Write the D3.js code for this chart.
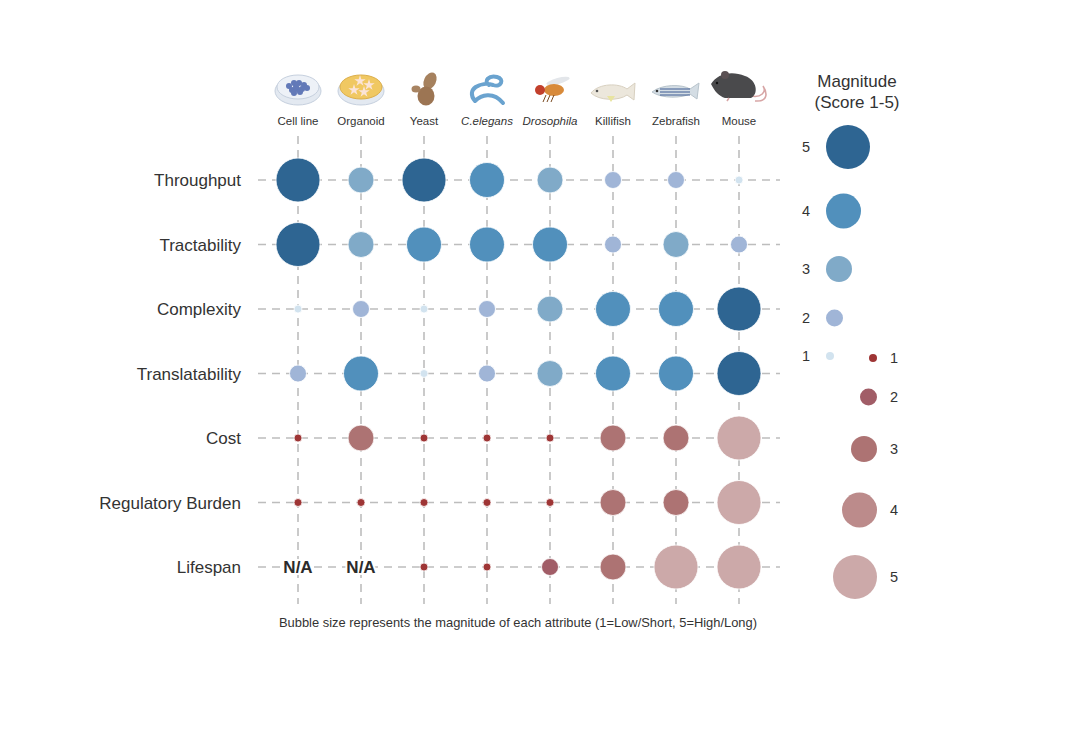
<!DOCTYPE html>
<html>
<head>
<meta charset="utf-8">
<script src="https://cdn.jsdelivr.net/npm/d3@7"></script>
<style>
  body { margin: 0; background: #fff; }
  svg { font-family: "Liberation Sans", Arial, sans-serif; }
</style>
</head>
<body>
<svg id="chart"></svg>
<script>
// species (columns) and attributes (rows)
const species = ["Cell line", "Organoid", "Yeast", "C.elegans", "Drosophila", "Killifish", "Zebrafish", "Mouse"];
const italicSpecies = ["C.elegans", "Drosophila"];
const attributes = ["Throughput", "Tractability", "Complexity", "Translatability", "Cost", "Regulatory Burden", "Lifespan"];
const redAttributes = ["Cost", "Regulatory Burden", "Lifespan"];

// scores per attribute, in species order (null = N/A)
const throughput      = [5, 3, 5, 4, 3, 2, 2, 1];
const tractability    = [5, 3, 4, 4, 4, 2, 3, 2];
const complexity      = [1, 2, 1, 2, 3, 4, 4, 5];
const translatability = [2, 4, 1, 2, 3, 4, 4, 5];
const cost            = [1, 3, 1, 1, 1, 3, 3, 5];
const regulatory      = [1, 1, 1, 1, 1, 3, 3, 5];
const lifespan        = [null, null, 1, 1, 2, 3, 5, 5];

const scores = [throughput, tractability, complexity, translatability, cost, regulatory, lifespan];
const legendLevels = [1, 2, 3, 4, 5];

const blueColors = ["#d2e3ef", "#a0b5d7", "#80aac8", "#5190bc", "#2e6592"];
const redColors  = ["#9e3535", "#a15d67", "#ad7373", "#bc8b8b", "#cca9a9"];

const width = 1080, height = 740;
const svg = d3.select("#chart").attr("width", width).attr("height", height);

const x = d3.scalePoint().domain(species).range([298, 739]);
const y = d3.scalePoint().domain(attributes).range([180, 567]);
const r = d3.scaleLinear().domain([1, 5]).range([4, 22]);
const blue = d3.scaleOrdinal().domain(legendLevels).range(blueColors);
const red = d3.scaleOrdinal().domain(legendLevels).range(redColors);

const cells = [];
attributes.forEach((a, i) => {
  species.forEach((s, j) => {
    cells.push({ attr: a, species: s, value: scores[i][j], red: redAttributes.includes(a) });
  });
});

// dashed grid
const grid = svg.append("g")
  .attr("stroke", "#bdbdbd")
  .attr("stroke-width", 1.6)
  .attr("stroke-dasharray", "8,6");

grid.selectAll("line.v")
  .data(species)
  .enter().append("line")
    .attr("class", "v")
    .attr("x1", d => x(d)).attr("x2", d => x(d))
    .attr("y1", 136).attr("y2", 604);

grid.selectAll("line.h")
  .data(attributes)
  .enter().append("line")
    .attr("class", "h")
    .attr("x1", 258).attr("x2", 780)
    .attr("y1", d => y(d)).attr("y2", d => y(d));

// bubbles
svg.append("g")
  .selectAll("circle")
  .data(cells.filter(d => d.value != null))
  .enter().append("circle")
    .attr("cx", d => x(d.species))
    .attr("cy", d => y(d.attr))
    .attr("r", d => r(d.value))
    .attr("fill", d => d.red ? red(d.value) : blue(d.value))
    .attr("stroke", "#fff")
    .attr("stroke-width", 0.8);

// N/A markers
svg.append("g")
  .selectAll("text")
  .data(cells.filter(d => d.value == null))
  .enter().append("text")
    .attr("x", d => x(d.species))
    .attr("y", d => y(d.attr) + 6)
    .attr("text-anchor", "middle")
    .attr("font-size", 17)
    .attr("font-weight", "bold")
    .attr("fill", "#2b2b2b")
    .attr("paint-order", "stroke")
    .attr("stroke", "#fff")
    .attr("stroke-width", 4)
    .text("N/A");

// row labels
svg.append("g")
  .selectAll("text")
  .data(attributes)
  .enter().append("text")
    .attr("x", 241)
    .attr("y", d => y(d) + 6)
    .attr("text-anchor", "end")
    .attr("font-size", 17)
    .attr("fill", "#333")
    .text(d => d);

// column labels
svg.append("g")
  .selectAll("text")
  .data(species)
  .enter().append("text")
    .attr("x", d => x(d))
    .attr("y", 125)
    .attr("text-anchor", "middle")
    .attr("font-size", 11.5)
    .attr("font-style", d => italicSpecies.includes(d) ? "italic" : "normal")
    .attr("fill", "#333")
    .text(d => d);

// little pictograms above each column
const icons = svg.append("g");
function dish(g, fill, rim) {
  g.append("ellipse").attr("cx", 0).attr("cy", 3).attr("rx", 23).attr("ry", 14).attr("fill", "#e3e9f1").attr("stroke", "#c6d0de");
  g.append("ellipse").attr("cx", 0).attr("cy", -1).attr("rx", 21).attr("ry", 12).attr("fill", fill).attr("stroke", rim);
}
const drawIcon = {
  "Cell line": g => {
    dish(g, "#edf1f7", "#c6d0de");
    [[-9,-2],[-4,-5],[1,-5],[6,-3],[-6,2],[-1,1],[4,1],[9,0],[-2,-1],[2,4],[-4,5]]
      .forEach(p => g.append("circle").attr("cx", p[0]).attr("cy", p[1]).attr("r", 3).attr("fill", "#6279b8"));
  },
  "Organoid": g => {
    dish(g, "#f0c862", "#dcae4a");
    [[-7,2],[3,4],[8,-3],[-1,-7]].forEach(p => {
      g.append("path").attr("d", d3.symbol(d3.symbolStar, 40)()).attr("transform", `translate(${p[0]},${p[1]})`).attr("fill", "#fbe4d8");
    });
  },
  "Yeast": g => {
    g.append("ellipse").attr("cx", 6).attr("cy", -8).attr("rx", 6).attr("ry", 9).attr("transform", "rotate(25,6,-8)").attr("fill", "#a6815e");
    g.append("ellipse").attr("cx", 2).attr("cy", 7).attr("rx", 8.5).attr("ry", 9.5).attr("fill", "#9c7553");
    g.append("ellipse").attr("cx", -8).attr("cy", 0).attr("rx", 4.5).attr("ry", 3.5).attr("fill", "#a88462");
  },
  "C.elegans": g => {
    g.append("path").attr("d", "M-12,12 C-22,0 -6,-8 6,-4 C14,-1 18,-10 10,-12 C2,-14 -4,-8 2,-4 M-12,12 C-6,6 6,2 16,14")
      .attr("fill", "none").attr("stroke", "#6aa3cf").attr("stroke-width", 4).attr("stroke-linecap", "round");
  },
  "Drosophila": g => {
    g.append("ellipse").attr("cx", 8).attr("cy", -9).attr("rx", 12).attr("ry", 3).attr("transform", "rotate(-15,8,-9)").attr("fill", "#e3e6ea");
    g.append("ellipse").attr("cx", 4).attr("cy", 0).attr("rx", 10).attr("ry", 6).attr("fill", "#d88a3a");
    g.append("circle").attr("cx", -10).attr("cy", 0).attr("r", 5).attr("fill", "#c2402c");
    [-4, 0, 4].forEach(dx => g.append("line").attr("x1", dx).attr("y1", 5).attr("x2", dx - 3).attr("y2", 12).attr("stroke", "#7a4a20").attr("stroke-width", 1));
  },
  "Killifish": g => {
    g.append("path").attr("d", "M-22,2 C-14,-8 6,-8 14,-2 L22,-8 L21,9 L14,4 C6,10 -14,10 -22,2 Z").attr("fill", "#ece7dc").attr("stroke", "#d8d0c0");
    g.append("circle").attr("cx", -16).attr("cy", 0).attr("r", 1.3).attr("fill", "#555");
    g.append("path").attr("d", "M-6,5 L-2,11 L2,5 Z").attr("fill", "#e8e4a0");
  },
  "Zebrafish": g => {
    g.append("path").attr("d", "M-24,1 C-14,-7 6,-7 14,-2 L23,-8 L21,8 L14,3 C6,7 -14,8 -24,1 Z").attr("fill", "#d4dde4").attr("stroke", "#b8c4cc");
    [-2, 1, 4].forEach(dy => g.append("line").attr("x1", -16).attr("y1", dy).attr("x2", 14).attr("y2", dy).attr("stroke", "#3d5b92").attr("stroke-width", 1));
    g.append("circle").attr("cx", -19).attr("cy", 0).attr("r", 1.3).attr("fill", "#333");
  },
  "Mouse": g => {
    g.append("path").attr("d", "M12,8 C22,10 28,4 24,-2 C28,4 30,14 16,13").attr("fill", "none").attr("stroke", "#d7a5a5").attr("stroke-width", 1.6);
    g.append("path").attr("d", "M-28,-4 C-22,-14 -8,-18 6,-12 C18,-8 20,6 12,10 L-14,10 C-20,8 -24,4 -28,-4 Z").attr("fill", "#4a4a4c");
    g.append("circle").attr("cx", -14).attr("cy", -13).attr("r", 4).attr("fill", "#5a5052");
    g.append("circle").attr("cx", -22).attr("cy", -5).attr("r", 1.2).attr("fill", "#111");
    g.append("line").attr("x1", -10).attr("y1", 10).attr("x2", -12).attr("y2", 13).attr("stroke", "#d7a5a5").attr("stroke-width", 1.6);
  }
};
const iconY = { "Cell line": 88, "Organoid": 88, "Yeast": 89, "C.elegans": 89, "Drosophila": 90, "Killifish": 91, "Zebrafish": 91, "Mouse": 88 };
species.forEach(s => {
  const g = icons.append("g").attr("transform", `translate(${x(s)},${iconY[s]})`);
  drawIcon[s](g);
});

// caption
svg.append("text")
  .attr("x", 518)
  .attr("y", 627)
  .attr("text-anchor", "middle")
  .attr("font-size", 12.9)
  .attr("fill", "#333")
  .text("Bubble size represents the magnitude of each attribute (1=Low/Short, 5=High/Long)");

// size legend
const legend = svg.append("g");
legend.append("text").attr("x", 857).attr("y", 87).attr("text-anchor", "middle").attr("font-size", 17).attr("fill", "#333").text("Magnitude");
legend.append("text").attr("x", 857).attr("y", 108).attr("text-anchor", "middle").attr("font-size", 17).attr("fill", "#333").text("(Score 1-5)");

const blueLegendY = [356, 318, 269, 211, 147];
const redLegendY = [358, 397, 449, 510, 577];

legend.selectAll("circle.b")
  .data(legendLevels)
  .enter().append("circle")
    .attr("class", "b")
    .attr("cx", d => 826 + r(d))
    .attr("cy", (d, i) => blueLegendY[i])
    .attr("r", d => r(d))
    .attr("fill", d => blue(d));
legend.selectAll("text.b")
  .data(legendLevels)
  .enter().append("text")
    .attr("class", "b")
    .attr("x", 806)
    .attr("y", (d, i) => blueLegendY[i] + 5)
    .attr("text-anchor", "middle")
    .attr("font-size", 14.5)
    .attr("fill", "#333")
    .text(d => d);

legend.selectAll("circle.r")
  .data(legendLevels)
  .enter().append("circle")
    .attr("class", "r")
    .attr("cx", d => 877 - r(d))
    .attr("cy", (d, i) => redLegendY[i])
    .attr("r", d => r(d))
    .attr("fill", d => red(d));
legend.selectAll("text.r")
  .data(legendLevels)
  .enter().append("text")
    .attr("class", "r")
    .attr("x", 894)
    .attr("y", (d, i) => redLegendY[i] + 5)
    .attr("text-anchor", "middle")
    .attr("font-size", 14.5)
    .attr("fill", "#333")
    .text(d => d);
</script>
</body>
</html>
